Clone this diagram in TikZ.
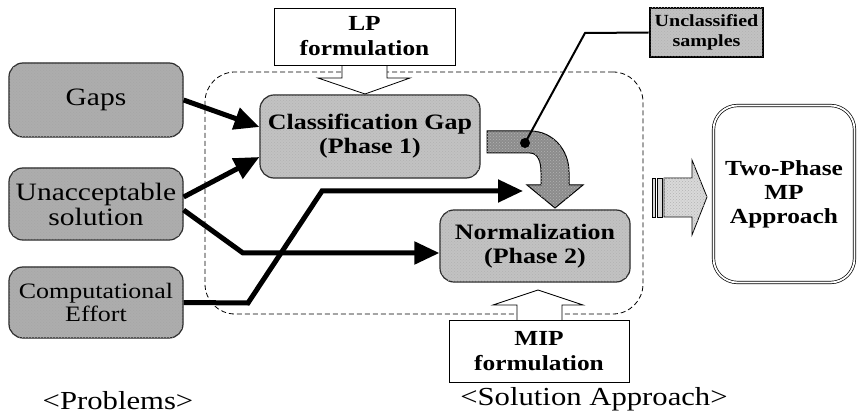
\documentclass[tikz,border=0pt]{standalone}
\usepackage{fontspec}
\setmainfont{Liberation Serif}[FakeStretch=1.18]
\usetikzlibrary{arrows.meta,patterns}
\definecolor{probgray}{gray}{0.68}
\definecolor{phasegray}{gray}{0.76}
\definecolor{curvegray}{gray}{0.55}
\definecolor{stripegray}{gray}{0.85}
\begin{document}
\begin{tikzpicture}[x=1pt,y=-1pt,
  probbox/.style={draw=black!85, line width=1.2pt, rounded corners=14pt, fill=probgray,
    postaction={pattern=crosshatch dots, pattern color=black!35},
    minimum width=174pt, inner sep=2pt, align=center, text=black},
  phasebox/.style={draw=black!85, line width=1.2pt, rounded corners=14pt, fill=phasegray,
    postaction={pattern=crosshatch dots, pattern color=black!30},
    inner sep=2pt, align=center, font=\bfseries\fontsize{22}{24}\selectfont},
  formbox/.style={draw, line width=0.8pt, fill=white, inner sep=2pt, align=center,
    font=\bfseries\fontsize{21.5}{25}\selectfont},
  formarrow/.style={draw, line width=0.8pt, fill=white},
  conn/.style={line width=5pt, draw=black, -{Triangle[length=25pt,width=22pt]}},
  regionbox/.style={draw=black, dashed, dash pattern=on 5pt off 3pt, line width=0.8pt,
    rounded corners=30pt, minimum width=438pt, minimum height=242pt},
  caption/.style={font=\fontsize{26}{28}\selectfont, inner sep=0pt}
]
\useasboundingbox (0,0) rectangle (857,414);

% dashed solution region
\node[regionbox] (region) at (424,193) {};

% problems
\node[probbox, minimum height=74pt, font=\fontsize{25}{25}\selectfont] (gaps) at (96,100) {Gaps};
\node[probbox, minimum height=72pt, font=\fontsize{25}{25}\selectfont] (unacc) at (96,204) {Unacceptable\\solution};
\node[probbox, minimum height=71pt, font=\fontsize{22}{23}\selectfont] (comp) at (96,302.5) {Computational\\Effort};

% phases
\node[phasebox, minimum width=220pt, minimum height=83pt] (class) at (370,136.5) {Classification Gap\\(Phase 1)};
\node[phasebox, minimum width=190pt, minimum height=72pt] (norm) at (535,246) {Normalization\\(Phase 2)};

% formulation block arrows and boxes
\draw[formarrow] (342,65) -- (342,78) -- (318,78) -- (365,94) -- (410,78) -- (387,78) -- (387,65);
\node[formbox, minimum width=181pt, minimum height=57pt] (lp) at (364.5,36.5) {LP\\formulation};
\draw[formarrow] (517,320) -- (517,305) -- (493,305) -- (538,290) -- (583,305) -- (562,305) -- (562,320);
\node[formbox, minimum width=180pt, minimum height=62pt] (mip) at (539,351) {MIP\\formulation};

% curved arrow
\draw[line width=1pt, fill=curvegray, postaction={pattern=crosshatch dots, pattern color=black!30}]
  (487,131) -- (530,131) .. controls (553,131) and (569,150) .. (569,172) -- (569,185)
  -- (583,185) -- (555,208) -- (527,185) -- (541,185) -- (541,172)
  .. controls (541,162) and (538,153) .. (530,153) -- (487,153) -- cycle;

% unclassified samples
\node[draw, line width=2.6pt, fill=phasegray, postaction={pattern=crosshatch dots, pattern color=black!30},
  minimum width=113pt, minimum height=49pt, inner sep=1pt, align=center,
  font=\bfseries\fontsize{17}{20}\selectfont] (uncl) at (706.5,32.5) {Unclassified\\samples};
\coordinate (ubend) at (585,33);
\node[circle, fill=black, inner sep=0pt, minimum size=10pt] (dot) at (525,143) {};
\draw[line width=2pt] (uncl.west) -- (ubend) -- (dot.center);

% connectors
\draw[conn] (gaps.east) -- ([yshift=9.5pt]class.west);
\draw[conn] ([yshift=7pt]unacc.east) -- ([yshift=-20.5pt]class.west);
\coordinate (ubend2) at (243,253);
\draw[conn] ([yshift=-6pt]unacc.east) -- (ubend2) -- ([yshift=-7pt]norm.west);
\coordinate (cb1) at (248,303);
\coordinate (cb2) at (322,191);
\coordinate (cend) at (523,191);
\draw[conn] (comp.east) -- (cb1) -- (cb2) -- (cend);

% striped block arrow
\draw[line width=0.8pt, fill=stripegray, postaction={pattern=crosshatch dots, pattern color=black!30}]
  (664,178) -- (692,178) -- (692,160) -- (707,197) -- (692,235) -- (692,217) -- (664,217) -- cycle;
\draw[line width=0.8pt, fill=stripegray] (652,178) rectangle (655,217);
\draw[line width=0.8pt, fill=stripegray] (657,178) rectangle (662,217);

% result
\node[draw, line width=0.7pt, double, double distance=1.8pt, rounded corners=24pt,
  minimum width=141pt, minimum height=177pt, align=center,
  font=\bfseries\fontsize{21.5}{24}\selectfont] (two) at (784,194) {Two-Phase\\MP\\Approach};

% captions
\node[caption] (problems) at (118,401) {\textless Problems\textgreater};
\node[caption] (solution) at (594,399) {\textless Solution Approach\textgreater};
\end{tikzpicture}
\end{document}
